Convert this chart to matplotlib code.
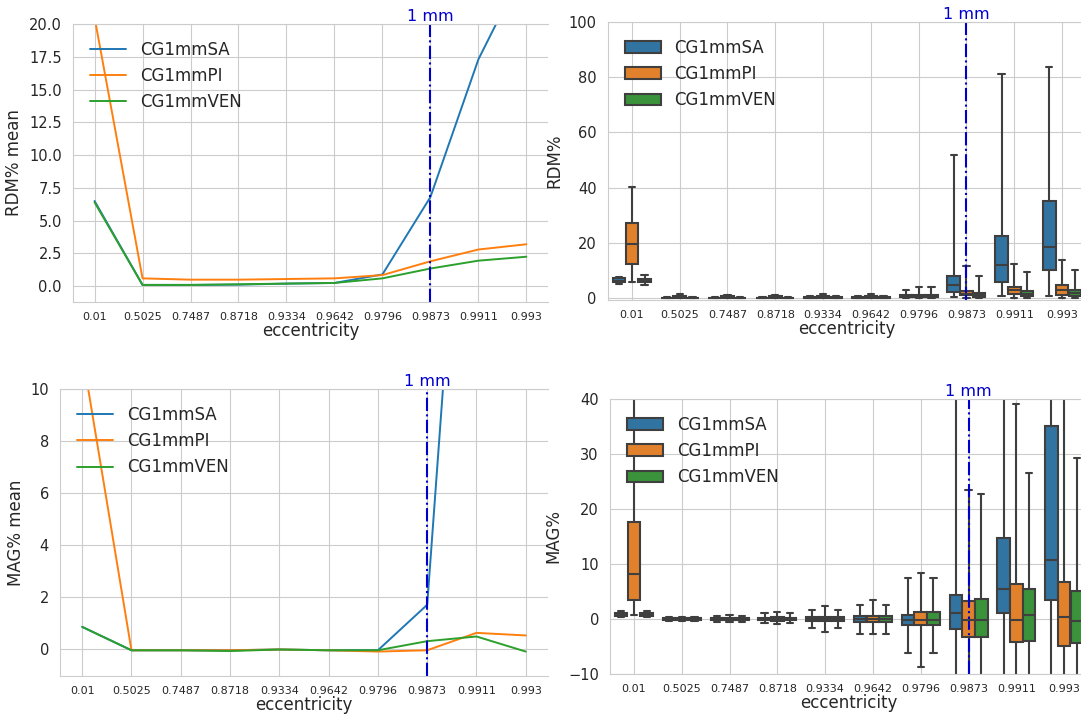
import numpy as np
import matplotlib
matplotlib.use("Agg")
import matplotlib.pyplot as plt
from matplotlib.patches import Patch
import seaborn as sns

sns.set_style("whitegrid")
plt.rcParams['font.family'] = ['DejaVu Sans']

ecc = ['0.01', '0.5025', '0.7487', '0.8718', '0.9334', '0.9642', '0.9796', '0.9873', '0.9911', '0.993']
groups = ['CG1mmSA', 'CG1mmPI', 'CG1mmVEN']
mark_ecc = '0.9873'

# mean curves (left column)
rdm_mean_sa = [6.5, 0.1, 0.1, 0.12, 0.2, 0.25, 0.9, 6.8, 17.3, 24.6]
rdm_mean_pi = [20.5, 0.6, 0.5, 0.5, 0.55, 0.6, 0.85, 1.9, 2.8, 3.2]
rdm_mean_ven = [6.4, 0.1, 0.1, 0.15, 0.2, 0.25, 0.6, 1.35, 1.95, 2.25]

mag_mean_sa = [0.85, -0.05, -0.05, -0.05, -0.02, -0.05, -0.05, 1.7, 27.7, 45.0]
mag_mean_pi = [11.4, -0.05, -0.05, -0.05, -0.02, -0.05, -0.1, -0.05, 0.62, 0.52]
mag_mean_ven = [0.85, -0.05, -0.05, -0.08, -0.02, -0.05, -0.05, 0.3, 0.48, -0.1]

# box stats (whislo, q1, med, q3, whishi) per eccentricity
rdm_box_sa = [(5.0, 5.8, 6.3, 7.2, 7.6), (0.0, 0.05, 0.1, 0.2, 0.4), (0.0, 0.05, 0.1, 0.2, 0.4),
              (0.0, 0.05, 0.1, 0.2, 0.5), (0.0, 0.05, 0.15, 0.3, 0.6), (0.0, 0.1, 0.2, 0.4, 0.9),
              (0.0, 0.3, 0.6, 1.2, 3.1), (0.5, 2.2, 4.6, 8.0, 52.0), (0.6, 5.8, 12.1, 22.6, 81.0),
              (0.6, 10.3, 18.5, 35.2, 83.8)]
rdm_box_pi = [(6.0, 12.5, 19.6, 27.2, 40.2), (0.0, 0.1, 0.3, 0.6, 1.4), (0.0, 0.1, 0.3, 0.6, 1.3),
              (0.0, 0.1, 0.3, 0.6, 1.3), (0.0, 0.1, 0.3, 0.7, 1.4), (0.0, 0.1, 0.3, 0.7, 1.5),
              (0.0, 0.3, 0.6, 1.3, 3.9), (0.1, 1.0, 1.6, 2.4, 11.6), (0.2, 1.6, 2.8, 4.0, 12.2),
              (0.2, 1.3, 2.8, 4.6, 13.7)]
rdm_box_ven = [(4.8, 5.8, 6.3, 7.0, 8.5), (0.0, 0.05, 0.1, 0.2, 0.4), (0.0, 0.05, 0.1, 0.2, 0.4),
               (0.0, 0.05, 0.1, 0.2, 0.5), (0.0, 0.05, 0.15, 0.3, 0.6), (0.0, 0.1, 0.2, 0.4, 0.9),
               (0.0, 0.3, 0.5, 1.2, 3.9), (0.0, 0.3, 1.0, 1.9, 8.1), (0.1, 0.6, 1.6, 2.4, 9.4),
               (0.1, 0.6, 1.9, 3.0, 10.0)]

mag_box_sa = [(0.4, 0.6, 0.9, 1.1, 1.4), (-0.3, -0.1, 0.0, 0.1, 0.3), (-0.5, -0.2, 0.0, 0.15, 0.5),
              (-0.8, -0.2, 0.0, 0.2, 1.0), (-1.7, -0.3, 0.0, 0.3, 1.6), (-2.8, -0.5, 0.0, 0.5, 2.6),
              (-6.2, -1.1, -0.2, 0.8, 7.5), (-25.0, -1.9, 1.0, 4.4, 60.0), (-30.0, 1.0, 5.5, 14.8, 80.0),
              (-30.0, 3.4, 10.7, 35.1, 120.0)]
mag_box_pi = [(0.65, 3.4, 8.2, 17.6, 45.0), (-0.3, -0.1, 0.0, 0.1, 0.3), (-0.6, -0.2, 0.0, 0.2, 0.8),
              (-1.0, -0.3, 0.0, 0.3, 1.3), (-2.3, -0.4, 0.0, 0.4, 2.3), (-2.8, -0.5, 0.0, 0.5, 3.4),
              (-8.7, -1.1, -0.2, 1.3, 8.3), (-20.0, -3.2, -0.2, 3.2, 23.4), (-25.0, -4.1, -0.2, 6.4, 39.0),
              (-25.0, -4.9, 0.3, 6.7, 50.0)]
mag_box_ven = [(0.4, 0.6, 0.9, 1.1, 1.4), (-0.3, -0.1, 0.0, 0.1, 0.3), (-0.5, -0.2, 0.0, 0.15, 0.5),
               (-0.8, -0.2, 0.0, 0.2, 1.0), (-1.7, -0.3, 0.0, 0.3, 1.6), (-2.8, -0.5, 0.0, 0.5, 2.6),
               (-6.2, -1.1, -0.2, 1.3, 7.5), (-20.0, -3.2, -0.2, 3.7, 22.7), (-20.0, -4.0, 0.7, 5.5, 26.5),
               (-20.0, -4.4, -0.4, 5.0, 29.3)]

line_colors = ['#1f77b4', '#ff7f0e', '#2ca02c']
box_colors = ['#3274a1', '#e1812c', '#3a923a']
edge = '#3f3f3f'
vcol = 'mediumblue'

fig = plt.figure(figsize=(10.81, 7.2), dpi=100)
ax_tl = fig.add_axes([0.0675, 0.5806, 0.4394, 0.3861])
ax_tr = fig.add_axes([0.5624, 0.5833, 0.4422, 0.3861])
ax_bl = fig.add_axes([0.0555, 0.0611, 0.4514, 0.3986])
ax_br = fig.add_axes([0.5643, 0.0639, 0.4422, 0.3820])


def style_axis(ax, ylabel):
    ax.set_xlabel('eccentricity', fontsize=12, labelpad=0)
    ax.set_ylabel(ylabel, fontsize=12)
    ax.tick_params(axis='x', labelsize=8, length=0, pad=7)
    ax.tick_params(axis='y', labelsize=10.5, length=0, pad=8)


def mark_line(ax, pos, top):
    ax.axvline(pos, color=vcol, linestyle='-.', linewidth=1.5)
    ax.text(pos, top, '1 mm', color=vcol, fontsize=11.5, ha='center', va='bottom')


def line_panel(ax, series, ylabel, ylim, yticks, fmt):
    for vals, name, c in zip(series, groups, line_colors):
        ax.plot(ecc, vals, color=c, linewidth=1.4, label=name)
    ax.set_ylim(*ylim)
    ax.set_yticks(yticks)
    ax.set_yticklabels([fmt.format(t) for t in yticks])
    ax.spines['right'].set_visible(False)
    mark_line(ax, ecc.index(mark_ecc), ylim[1])
    ax.legend(loc='upper left', frameon=False, fontsize=12, handlelength=2.2,
              borderaxespad=0.6, labelspacing=0.5)
    style_axis(ax, ylabel)


def box_panel(ax, series, ylabel, ylim, yticks):
    pos = np.arange(len(ecc))
    w = 0.8 / len(groups)
    for i, (stats_list, c) in enumerate(zip(series, box_colors)):
        stats = [dict(whislo=s[0], q1=s[1], med=s[2], q3=s[3], whishi=s[4], fliers=[])
                 for s in stats_list]
        ax.bxp(stats, positions=pos + (i - 1) * w, widths=w * 0.98, patch_artist=True,
               showfliers=False, manage_ticks=False,
               boxprops=dict(facecolor=c, edgecolor=edge, linewidth=1.5),
               medianprops=dict(color=edge, linewidth=1.5),
               whiskerprops=dict(color=edge, linewidth=1.5),
               capprops=dict(color=edge, linewidth=1.5))
    ax.set_xlim(-0.5, len(ecc) - 0.5)
    ax.set_xticks(pos)
    ax.set_xticklabels(ecc)
    ax.set_ylim(*ylim)
    ax.set_yticks(yticks)
    mark_line(ax, ecc.index(mark_ecc), ylim[1])
    handles = [Patch(facecolor=c, edgecolor=edge, linewidth=1.5) for c in box_colors]
    ax.legend(handles, groups, loc='upper left', frameon=False, fontsize=12,
              handlelength=2.2, borderaxespad=0.6, labelspacing=0.5)
    style_axis(ax, ylabel)


line_panel(ax_tl, [rdm_mean_sa, rdm_mean_pi, rdm_mean_ven], 'RDM% mean',
           (-1.2, 20), np.arange(0, 20.1, 2.5), '{:.1f}')
line_panel(ax_bl, [mag_mean_sa, mag_mean_pi, mag_mean_ven], 'MAG% mean',
           (-1.04, 10), np.arange(0, 11, 2), '{:.0f}')
box_panel(ax_tr, [rdm_box_sa, rdm_box_pi, rdm_box_ven], 'RDM%', (-0.7, 100), np.arange(0, 101, 20))
box_panel(ax_br, [mag_box_sa, mag_box_pi, mag_box_ven], 'MAG%', (-10, 40), np.arange(-10, 41, 10))

fig.savefig('out.png', dpi=100)
